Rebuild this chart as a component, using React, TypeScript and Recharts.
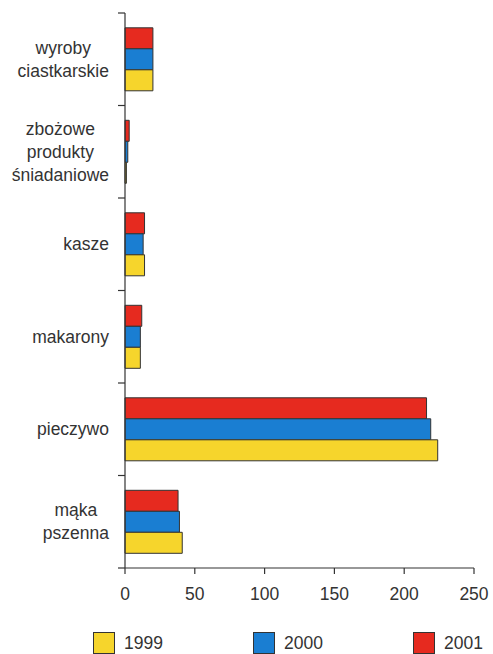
import React from 'react';
import { BarChart, Bar, XAxis, YAxis, Legend } from 'recharts';

// Consumption by product group, three years
const categories = [
  'wyroby\nciastkarskie',
  'zbożowe\nprodukty\nśniadaniowe',
  'kasze',
  'makarony',
  'pieczywo',
  'mąka\npszenna',
];
const values1999 = [20, 1, 14, 11, 224, 41];
const values2000 = [20, 2, 13, 11, 219, 39];
const values2001 = [20, 3, 14, 12, 216, 38];

const years = ['1999', '2000', '2001'];
const xTicks = [0, 50, 100, 150, 200, 250];

const COLORS: Record<string, string> = {
  '1999': '#f6d52c',
  '2000': '#1a7ed2',
  '2001': '#e62a1f',
};

const FONT = '"Liberation Sans", Arial, Helvetica, sans-serif';
const FONT_SIZE = 17.5;
const TEXT = '#333333';
const LINE = '#333333';

const data = categories.map((name, i) => ({
  name,
  y1999: values1999[i],
  y2000: values2000[i],
  y2001: values2001[i],
}));

const LINE_HEIGHT = 23;
const TICK_LEN = 7;
const LABEL_GAP = 16;

let measureCtx: CanvasRenderingContext2D | null = null;
const textWidth = (s: string) => {
  if (!measureCtx) {
    measureCtx = document.createElement('canvas').getContext('2d');
  }
  if (!measureCtx) return s.length * FONT_SIZE * 0.5;
  measureCtx.font = `${FONT_SIZE}px ${FONT}`;
  return measureCtx.measureText(s).width;
};

// Category label (lines centred, block right-aligned) plus tick marks at band boundaries
const CategoryTick = (props: any) => {
  const { x, y, payload, index, visibleTicksCount } = props;
  const half = payload.offset ?? 0;
  const lines = String(payload.value).split('\n');
  const blockWidth = Math.max(...lines.map(textWidth));
  const cx = x - LABEL_GAP - blockWidth / 2;
  const first = y - ((lines.length - 1) * LINE_HEIGHT) / 2 + 6;
  const isLast = index === visibleTicksCount - 1;
  return (
    <g>
      <line x1={x - TICK_LEN} x2={x} y1={y - half} y2={y - half} stroke={LINE} strokeWidth={1.2} />
      {isLast && (
        <line x1={x - TICK_LEN} x2={x} y1={y + half} y2={y + half} stroke={LINE} strokeWidth={1.2} />
      )}
      <text x={cx} y={first} textAnchor="middle" fill={TEXT} fontSize={FONT_SIZE} fontFamily={FONT}>
        {lines.map((l, i) => (
          <tspan key={i} x={cx} y={first + i * LINE_HEIGHT}>
            {l}
          </tspan>
        ))}
      </text>
    </g>
  );
};

const legendPositions: Record<string, number> = { '1999': 93, '2000': 253, '2001': 413 };

const LegendContent = () => (
  <div style={{ position: 'relative', width: 493, height: 22, fontFamily: FONT }}>
    {years.map((yr) => (
      <div
        key={yr}
        style={{
          position: 'absolute',
          left: legendPositions[yr],
          top: 0,
          display: 'flex',
          alignItems: 'center',
          height: 22,
        }}
      >
        <span
          style={{
            display: 'inline-block',
            width: 22,
            height: 22,
            background: COLORS[yr],
            border: `1px solid ${LINE}`,
            boxSizing: 'border-box',
            marginRight: 9,
          }}
        />
        <span style={{ fontSize: FONT_SIZE, color: TEXT, lineHeight: '22px' }}>{yr}</span>
      </div>
    ))}
  </div>
);

export default function App() {
  return (
    <div style={{ position: 'absolute', left: 0, top: 0, width: 493, height: 654, background: '#fff' }}>
      <BarChart
        width={493}
        height={654}
        data={data}
        layout="vertical"
        margin={{ top: 13, right: 19, bottom: 0, left: 0 }}
        barCategoryGap="16%"
        barGap={0}
      >
        <YAxis
          type="category"
          dataKey="name"
          width={125}
          axisLine={{ stroke: LINE, strokeWidth: 1.2 }}
          tickLine={false}
          tickSize={0}
          tickMargin={0}
          tick={<CategoryTick />}
          interval={0}
        />
        <XAxis
          type="number"
          domain={[0, 250]}
          ticks={xTicks}
          height={64}
          tickSize={6}
          tickMargin={14}
          axisLine={{ stroke: LINE, strokeWidth: 1.2 }}
          tickLine={{ stroke: LINE, strokeWidth: 1.2 }}
          tick={{ fill: TEXT, fontSize: FONT_SIZE, fontFamily: FONT }}
        />
        <Legend
          verticalAlign="bottom"
          height={22}
          content={<LegendContent />}
          wrapperStyle={{ left: 0, bottom: 0 }}
        />
        <Bar dataKey="y2001" name="2001" fill={COLORS['2001']} stroke={LINE} strokeWidth={1} isAnimationActive={false} />
        <Bar dataKey="y2000" name="2000" fill={COLORS['2000']} stroke={LINE} strokeWidth={1} isAnimationActive={false} />
        <Bar dataKey="y1999" name="1999" fill={COLORS['1999']} stroke={LINE} strokeWidth={1} isAnimationActive={false} />
      </BarChart>
    </div>
  );
}
